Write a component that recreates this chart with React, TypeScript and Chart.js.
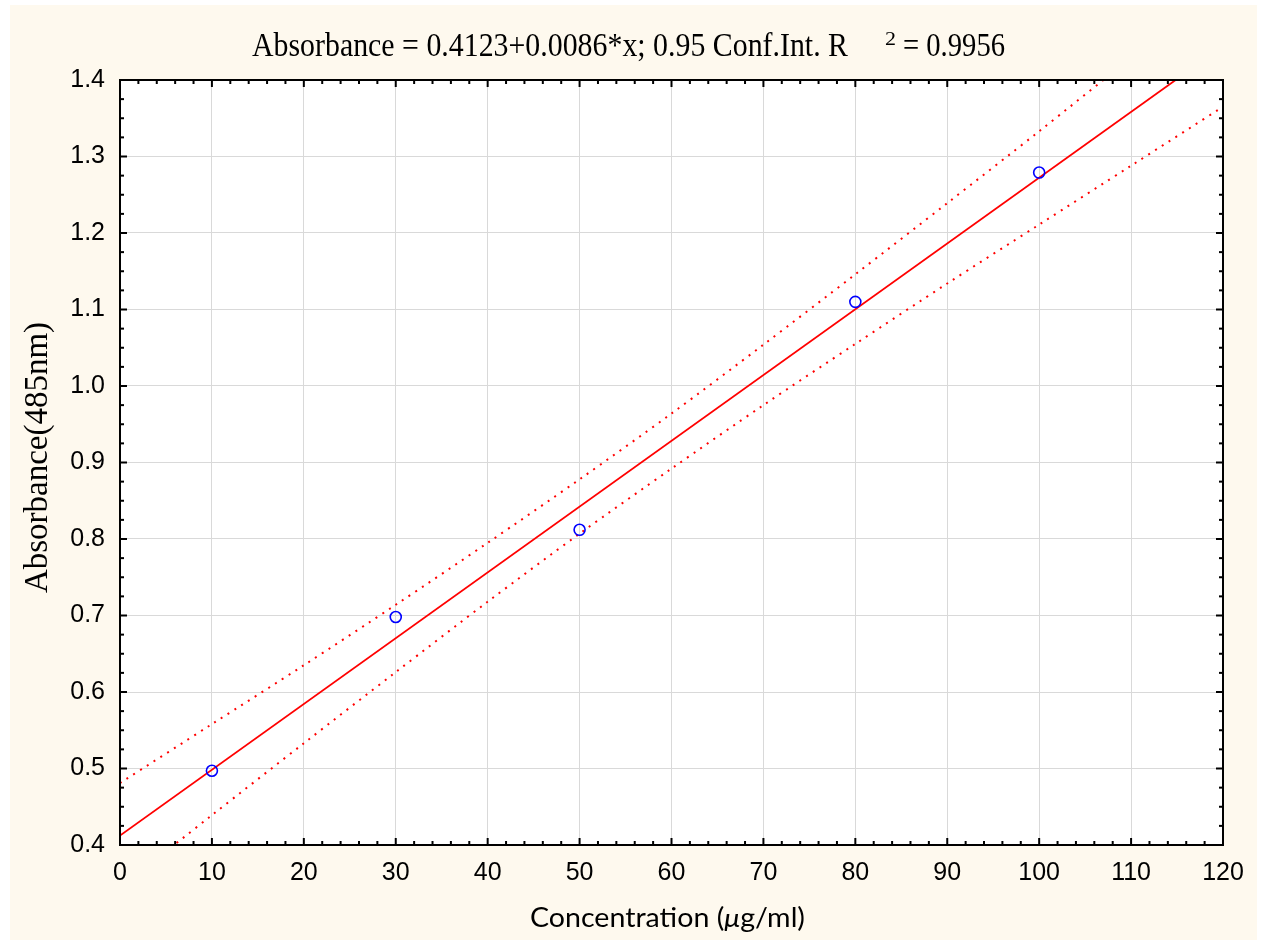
import React, { useEffect, useRef } from "react";
import { Chart, registerables } from "chart.js";
Chart.register(...registerables);

// ---- text ----
const titleMain = "Absorbance = 0.4123+0.0086*x; 0.95 Conf.Int. R";
const titleSup = "2";
const titleTail = "= 0.9956";
const xTitleA = "Concentration (";
const xTitleMu = "μ";
const xTitleB = "g/ml)";
const yTitle = "Absorbance(485nm)";

// ---- data ----
const concentration = [10, 30, 50, 80, 100];
const absorbance = [0.497, 0.698, 0.812, 1.11, 1.279];

const fitX = [0, 120];
const fitY = [0.4123, 1.4443];

const bandX = [0, 10, 20, 30, 40, 50, 60, 70, 80, 90, 100, 110, 120];
const bandUpper = [0.481, 0.558, 0.635, 0.714, 0.795, 0.878, 0.964, 1.054, 1.146, 1.239, 1.333, 1.429, 1.524];
const bandLower = [0.344, 0.439, 0.533, 0.626, 0.718, 0.807, 0.892, 0.975, 1.055, 1.134, 1.211, 1.288, 1.365];

const xMin = 0, xMax = 120, xStep = 10;
const yMin = 0.4, yMax = 1.4, yStep = 0.1;

const CREAM = "#fef9ee";
const RED = "#ff0000";
const BLUE = "#0000ff";

const toXY = (xs: number[], ys: number[]) => xs.map((x, i) => ({ x, y: ys[i] }));

function drawFitted(ctx: CanvasRenderingContext2D, text: string, font: string, x: number, y: number, targetW: number) {
  ctx.font = font;
  const w = ctx.measureText(text).width;
  const s = targetW / w;
  ctx.save();
  ctx.translate(x, y);
  ctx.scale(s, 1);
  ctx.fillText(text, 0, 0);
  ctx.restore();
}

const bgPlugin = {
  id: "bgPlugin",
  beforeDraw(chart: any) {
    const { ctx, width, height, chartArea: a } = chart;
    ctx.save();
    ctx.fillStyle = "#ffffff";
    ctx.fillRect(0, 0, width, height);
    ctx.fillStyle = CREAM;
    ctx.fillRect(10, 5, 1247, 935);
    ctx.fillStyle = "#ffffff";
    ctx.fillRect(a.left, a.top, a.right - a.left, a.bottom - a.top);
    ctx.restore();
  },
};

const framePlugin = {
  id: "framePlugin",
  afterDatasetsDraw(chart: any) {
    const { ctx, chartArea: a } = chart;
    const xs = chart.scales.x;
    const ys = chart.scales.y;
    ctx.save();
    ctx.strokeStyle = "#000";
    ctx.lineWidth = 2;
    ctx.strokeRect(a.left, a.top, a.right - a.left, a.bottom - a.top);
    const line = (x1: number, y1: number, x2: number, y2: number) => {
      ctx.beginPath();
      ctx.moveTo(x1, y1);
      ctx.lineTo(x2, y2);
      ctx.stroke();
    };
    const tx = (p: number, len: number) => {
      line(p, a.bottom, p, a.bottom - len);
      line(p, a.top, p, a.top + len);
    };
    const ty = (p: number, len: number) => {
      line(a.left, p, a.left + len, p);
      line(a.right, p, a.right - len, p);
    };
    const xt = xs.ticks;
    xt.forEach((t: any, i: number) => {
      tx(xs.getPixelForValue(t.value), 7);
      if (i < xt.length - 1) {
        const nv = xt[i + 1].value;
        for (let k = 1; k < 5; k++) tx(xs.getPixelForValue(t.value + ((nv - t.value) * k) / 5), 4);
      }
    });
    const yt = ys.ticks;
    yt.forEach((t: any, i: number) => {
      ty(ys.getPixelForValue(t.value), 7);
      if (i < yt.length - 1) {
        const nv = yt[i + 1].value;
        for (let k = 1; k < 4; k++) ty(ys.getPixelForValue(t.value + ((nv - t.value) * k) / 4), 4);
      }
    });
    ctx.restore();
  },
};

const textPlugin = {
  id: "textPlugin",
  afterDraw(chart: any) {
    const { ctx } = chart;
    ctx.save();
    ctx.fillStyle = "#000";
    ctx.textAlign = "left";
    ctx.textBaseline = "alphabetic";
    const serif = "'Liberation Serif', 'Times New Roman', serif";
    // main title
    drawFitted(ctx, titleMain, `34px ${serif}`, 252, 56, 596);
    drawFitted(ctx, titleSup, `19px ${serif}`, 885, 45, 11);
    drawFitted(ctx, titleTail, `34px ${serif}`, 903, 56, 102);
    // x title (one common horizontal scale)
    const sans = "Lato, 'Open Sans', sans-serif";
    const fA = `26px ${sans}`;
    const fM = `italic 26px ${sans}`;
    ctx.font = fA;
    const wA = ctx.measureText(xTitleA).width;
    const wB = ctx.measureText(xTitleB).width;
    ctx.font = fM;
    const wM = ctx.measureText(xTitleMu).width;
    const s = 275 / (wA + wM + wB);
    ctx.save();
    ctx.translate(530, 927);
    ctx.scale(s, 1);
    ctx.font = fA;
    ctx.fillText(xTitleA, 0, 0);
    ctx.font = fM;
    ctx.fillText(xTitleMu, wA, 0);
    ctx.font = fA;
    ctx.fillText(xTitleB, wA + wM, 0);
    ctx.restore();
    // y title
    ctx.save();
    ctx.translate(47, 593);
    ctx.rotate(-Math.PI / 2);
    drawFitted(ctx, yTitle, `33px ${serif}`, 0, 0, 271);
    ctx.restore();
    ctx.restore();
  },
};

export default function App() {
  const ref = useRef<HTMLCanvasElement | null>(null);
  useEffect(() => {
    document.body.style.margin = "0";
    const canvas = ref.current;
    if (!canvas) return;
    const tickFont = { family: "'Liberation Sans', Arial, sans-serif", size: 25 };
    const chart = new Chart(canvas, {
      type: "scatter",
      data: {
        datasets: [
          {
            label: "data",
            data: toXY(concentration, absorbance),
            showLine: false,
            pointStyle: "circle",
            pointRadius: 5.5,
            pointBorderWidth: 1.6,
            pointBorderColor: BLUE,
            pointBackgroundColor: "rgba(0,0,0,0)",
            order: 0,
          },
          {
            label: "fit",
            data: toXY(fitX, fitY),
            showLine: true,
            borderColor: RED,
            borderWidth: 1.8,
            pointRadius: 0,
            order: 1,
          },
          {
            label: "upper",
            data: toXY(bandX, bandUpper),
            showLine: true,
            borderColor: RED,
            borderWidth: 2,
            borderDash: [2, 6],
            pointRadius: 0,
            tension: 0.3,
            order: 2,
          },
          {
            label: "lower",
            data: toXY(bandX, bandLower),
            showLine: true,
            borderColor: RED,
            borderWidth: 2,
            borderDash: [2, 6],
            pointRadius: 0,
            tension: 0.3,
            order: 3,
          },
        ],
      },
      options: {
        animation: false,
        responsive: false,
        devicePixelRatio: 1,
        layout: { padding: { top: 80, right: 41, bottom: 0, left: 0 } },
        plugins: {
          legend: { display: false },
          tooltip: { enabled: false },
          title: { display: false },
        },
        scales: {
          x: {
            type: "linear",
            min: xMin,
            max: xMax,
            ticks: { stepSize: xStep, font: tickFont, color: "#000", padding: 13, maxRotation: 0 },
            grid: { color: "#d9d9d9", lineWidth: 1, drawTicks: false },
            border: { display: false },
            afterFit(scale: any) {
              scale.height = 97;
            },
          },
          y: {
            type: "linear",
            min: yMin,
            max: yMax,
            ticks: {
              stepSize: yStep,
              font: tickFont,
              color: "#000",
              padding: 15,
              callback: (v: any) => Number(v).toFixed(1),
            },
            grid: { color: "#d9d9d9", lineWidth: 1, drawTicks: false },
            border: { display: false },
            afterFit(scale: any) {
              scale.width = 120;
            },
          },
        },
      },
      plugins: [bgPlugin, framePlugin, textPlugin],
    } as any);
    return () => chart.destroy();
  }, []);
  return (
    <div style={{ width: 1264, height: 942 }}>
      <canvas ref={ref} width={1264} height={942} style={{ display: "block" }} />
    </div>
  );
}
